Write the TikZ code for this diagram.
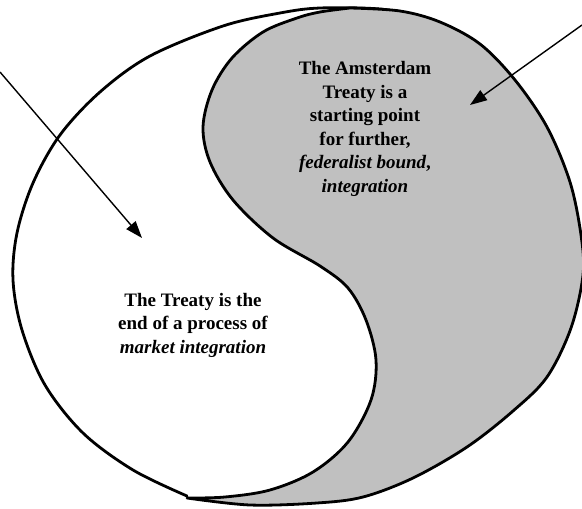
\documentclass[tikz,border=0pt]{standalone}
\usepackage{fontspec}
\setmainfont{Liberation Serif}
\usetikzlibrary{arrows.meta}
\definecolor{panelgray}{RGB}{192,192,192}
\begin{document}
\begin{tikzpicture}[x=1pt,y=-1pt,
  outline/.style={line width=2.8pt, line join=round, line cap=round},
  pointer/.style={line width=1.4pt, -{Triangle[length=17pt,width=12pt]}},
  caption/.style={align=center, font=\fontsize{19}{23.5}\selectfont\bfseries}]
\useasboundingbox (0,0) rectangle (582,509);

% outer boundary of the white half
\draw[outline] plot[smooth, tension=0.55] coordinates {
  (423,17) (380,9) (320,8) (280,13) (223,26) (150,56) (100,92) (60,135)
  (33,183) (17,233) (13,280) (22,330) (45,385) (83,433) (133,470) (187,496)};

% grey half: outer arc from bottom tip to top tip, then the S-shaped divide back
\draw[outline, fill=panelgray]
  plot[smooth, tension=0.55] coordinates {
  (187,498) (250,505) (317,503) (363,497) (413,478) (467,447) (513,411)
  (547,377) (571,328) (583,275) (581,235) (570,182) (547,127) (515,80)
  (480,44) (440,22) (400,11) (350,8)}
  -- plot[smooth, tension=0.55] coordinates {
  (350,8) (320,12) (297,18) (263,32) (232,58) (212,90) (203,127) (210,162)
  (233,200) (273,238) (320,266) (348,288) (366,320) (376,360) (371,400)
  (348,442) (313,472) (270,490) (225,497) (187,498)} -- cycle;

% arrows pointing into each half
\coordinate (leftfrom) at (0,72);
\coordinate (lefttip) at (142,238);
\coordinate (rightfrom) at (582,25);
\coordinate (righttip) at (470,105);
\draw[pointer] (leftfrom) -- (lefttip);
\draw[pointer] (rightfrom) -- (righttip);

% captions
\node[caption] (greytext) at (365,129)
  {The Amsterdam\\Treaty is a\\starting point\\for further,\\\textit{federalist bound},\\\textit{integration}};
\node[caption] (whitetext) at (193,325)
  {The Treaty is the\\end of a process of\\\textit{market integration}};
\end{tikzpicture}
\end{document}
